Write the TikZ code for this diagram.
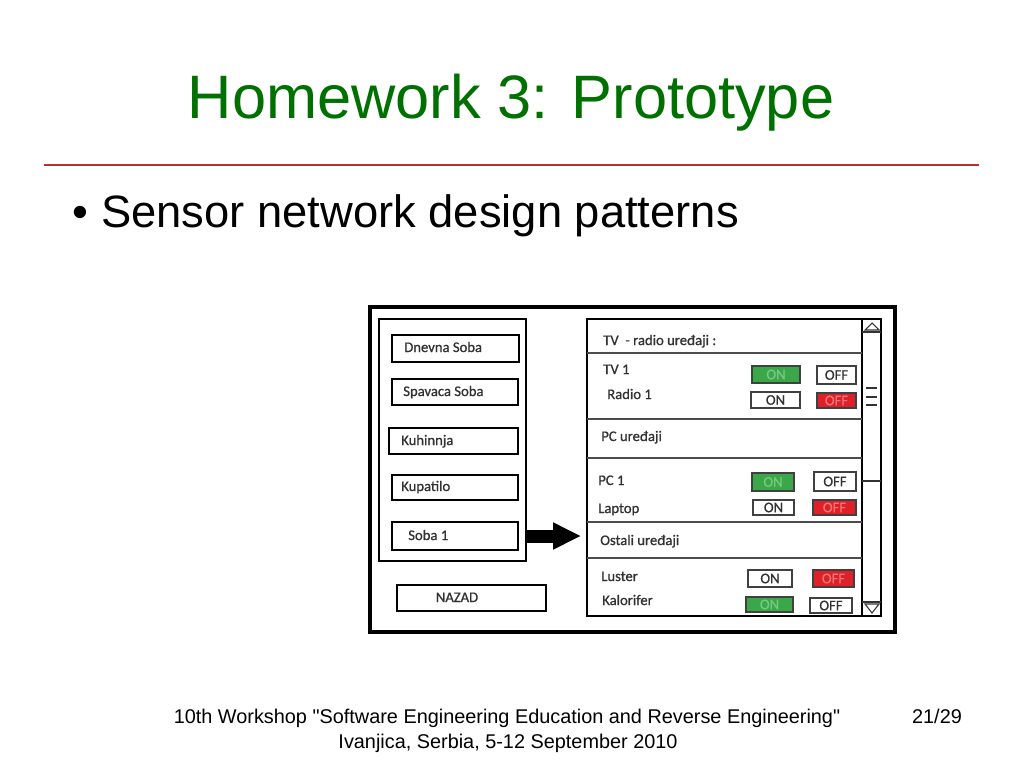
\documentclass[tikz,border=0pt]{standalone}
\usepackage{fontspec}
\setmainfont{Liberation Sans}
\newfontfamily\footfont{Liberation Sans}
\newfontfamily\uifont{Carlito}[FakeBold=0.8]
\usetikzlibrary{arrows.meta,fit,calc}
\definecolor{titlegreen}{RGB}{0,112,0}
\definecolor{rulered}{RGB}{190,45,45}
\definecolor{btngreen}{RGB}{58,168,72}
\definecolor{btnred}{RGB}{224,32,40}
\definecolor{uitext}{RGB}{50,50,50}
\definecolor{ongreentext}{RGB}{120,200,130}
\definecolor{offredtext}{RGB}{240,120,120}
\begin{document}
\begin{tikzpicture}[x=0.75pt,y=-0.75pt,
  frame/.style={draw=black, line width=3.6pt, inner sep=0pt},
  panel/.style={draw=black, line width=2.2pt, inner sep=0pt},
  roombox/.style={draw=black, line width=1.9pt, inner sep=0pt},
  btntext/.style={font=\uifont\fontsize{11}{13}\selectfont, inner sep=0pt},
  btn/.style={draw=black!75, line width=0.9pt, inner sep=0pt},
  offlbl/.style={label={[btntext, text=uitext]center:OFF}},
  onlbl/.style={label={[btntext, text=uitext]center:ON}},
  onbtn/.style={btn, fill=btngreen, label={[btntext, text=ongreentext]center:ON}},
  offbtn/.style={btn, fill=btnred, label={[btntext, text=offredtext]center:OFF}},
  lbl/.style={font=\uifont\fontsize{11}{13}\selectfont, text=uitext,
    inner sep=0pt, anchor=base west},
  sep/.style={draw=black!70, line width=1.1pt},
  scrl/.style={draw=black!80, line width=0.8pt},
  foot/.style={font=\footfont\fontsize{14.9}{17}\selectfont, anchor=base, inner sep=0pt},
]
\useasboundingbox (0,0) rectangle (1024,768);
\fill[white] (0,0) rectangle (1024,768);

% title, rule, bullet
\node[font=\fontsize{46}{50}\selectfont, text=titlegreen, anchor=base, inner sep=0pt]
  (title) at (511,118) {Homework 3: Prototype};
\coordinate (rl) at (44,165);
\coordinate (rr) at (979,165);
\draw[rulered, line width=0.9pt] (rl) -- (rr);
\node[font=\fontsize{34}{40}\selectfont, anchor=base, inner sep=0pt]
  (dot) at (80,227) {•};
\node[font=\fontsize{34}{40}\selectfont, anchor=base west, inner sep=0pt]
  (bullet) at (101,227) {Sensor network design patterns};

% footer
\node[foot] (foot1) at (507,723)
  {10th Workshop \symbol{34}Software Engineering Education and Reverse Engineering\symbol{34}};
\node[foot] (foot2) at (508,748) {Ivanjica, Serbia, 5-12 September 2010};
\node[foot] (page) at (937,723) {21/29};

% mockup frame and panels
\node[frame, fit={(370,307) (895,632)}] (outer) {};
\node[panel, fit={(379,319) (526,561)}] (leftpanel) {};
\node[panel, fit={(587,319) (881,616)}] (rightpanel) {};

% room buttons
\node[roombox, fit={(392,335) (519,362)}] (dnevna) {};
\node[lbl] (tdnevna) at (404,352) {Dnevna Soba};
\node[roombox, fit={(392,379) (518,405)}] (spavaca) {};
\node[lbl] (tspavaca) at (403,396) {Spavaca Soba};
\node[roombox, fit={(389,428) (518,454)}] (kuhinja) {};
\node[lbl] (tkuhinja) at (401,445) {Kuhinnja};
\node[roombox, fit={(392,475) (518,500)}] (kupatilo) {};
\node[lbl] (tkupatilo) at (401,491) {Kupatilo};
\node[roombox, fit={(392,522) (518,550)}] (soba) {};
\node[lbl] (tsoba) at (408,540) {Soba 1};
\node[roombox, fit={(397,585) (546,611)}] (nazad) {};
\node[lbl, anchor=base] (tnazad) at (457,602) {NAZAD};

% arrow
\coordinate (arrowtip) at (581,536);
\draw[line width=9.75pt, -{Triangle[length=21pt,width=19pt]}]
  (leftpanel.east |- soba.east) -- (arrowtip);

% scrollbar
\coordinate (sbtop) at (862,319);
\coordinate (sbbot) at (862,616);
\draw[line width=2.2pt] (sbtop) -- (sbbot);
\draw[scrl] (862,332) -- (881,332);
\draw[scrl] (865,330) -- (872,323) -- (879,330) -- cycle;
\draw[scrl] (862,602) -- (881,602);
\draw[scrl] (865,604) -- (872,613) -- (879,604) -- cycle;
\draw[scrl] (866,388) -- (877,388);
\draw[scrl] (866,397) -- (877,397);
\draw[scrl] (866,405) -- (877,405);
\draw[scrl] (862,481) -- (881,481);

% section separators
\draw[sep] (587,353) -- (862,353);
\draw[sep] (587,419) -- (862,419);
\draw[sep] (587,458) -- (862,458);
\draw[sep] (587,522) -- (862,522);
\draw[sep] (587,558) -- (862,558);

% section labels
\node[lbl] (ttv) at (603,345) {TV\ \ - radio uređaji :};
\node[lbl] (ttv1) at (603,374) {TV 1};
\node[lbl] (tradio) at (607,399) {Radio 1};
\node[lbl] (tpc) at (601,441) {PC uređaji};
\node[lbl] (tpc1) at (598,485) {PC 1};
\node[lbl] (tlaptop) at (598,513) {Laptop};
\node[lbl] (tostali) at (600,545) {Ostali uređaji};
\node[lbl] (tluster) at (601,581) {Luster};
\node[lbl] (tkalorifer) at (602,605) {Kalorifer};

% on/off buttons
\node[onbtn, fit={(752,366) (800,383)}] (tv1on) {};
\node[btn, offlbl, fit={(817,366) (856,384)}] (tv1off) {};
\node[btn, onlbl, fit={(751,392) (800,408)}] (radioon) {};
\node[offbtn, fit={(817,393) (856,408)}] (radiooff) {};
\node[onbtn, fit={(752,473) (794,491)}] (pc1on) {};
\node[btn, offlbl, fit={(814,472) (856,491)}] (pc1off) {};
\node[btn, onlbl, fit={(753,500) (794,515)}] (laptopon) {};
\node[offbtn, fit={(813,500) (856,515)}] (laptopoff) {};
\node[btn, onlbl, fit={(748,570) (792,587)}] (lusteron) {};
\node[offbtn, fit={(813,570) (854,587)}] (lusteroff) {};
\node[onbtn, fit={(746,597) (793,612)}] (kaloron) {};
\node[btn, offlbl, fit={(810,598) (852,613)}] (kaloroff) {};
\end{tikzpicture}
\end{document}
